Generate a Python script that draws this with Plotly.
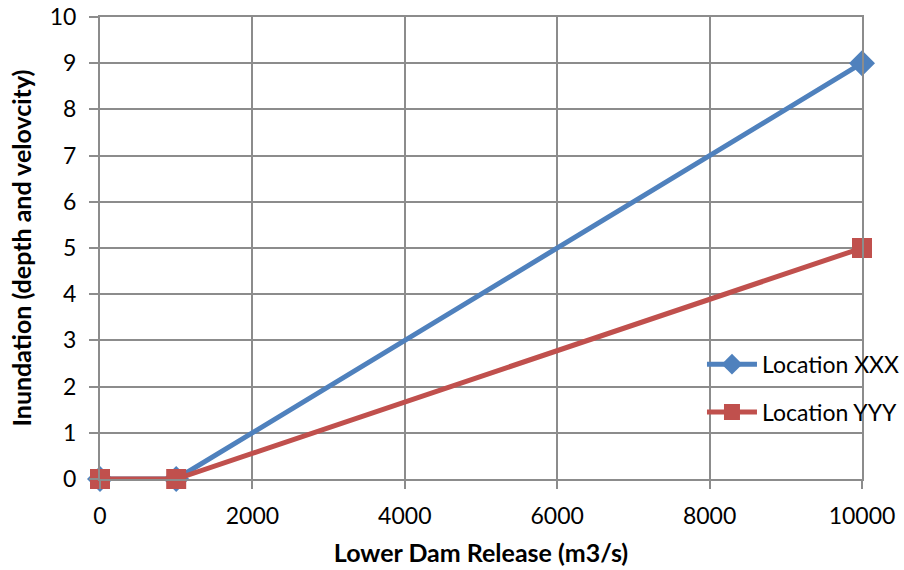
import plotly.graph_objects as go

release = [0, 1000, 10000]
xxx = [0, 0, 9]
yyy = [0, 0, 5]
x_ticks = [0, 2000, 4000, 6000, 8000, 10000]
x_labels = ["0", "2000", "4000", "6000", "8000", "10000"]
y_ticks = list(range(0, 11))

FONT = "Lato, 'Open Sans', sans-serif"
GRID = "#8c8c8c"

fig = go.Figure()
fig.add_trace(go.Scatter(
    x=release, y=xxx, mode="lines+markers", name="Location XXX",
    line=dict(color="#4F81BD", width=5),
    marker=dict(symbol="diamond", size=20, color="#4F81BD"),
    legendgroup="a",
))
fig.add_trace(go.Scatter(
    x=release, y=yyy, mode="lines+markers", name="Location YYY",
    line=dict(color="#C0504D", width=5),
    marker=dict(symbol="square", size=20, color="#C0504D"),
    legendgroup="b",
))

fig.update_layout(
    width=904, height=570,
    margin=dict(l=100, r=42, t=17, b=91, autoexpand=False),
    paper_bgcolor="white", plot_bgcolor="white",
    font=dict(family=FONT, size=23, color="black"),
    showlegend=True,
    legend=dict(x=0.79, y=0.295, xanchor="left", yanchor="top",
                bgcolor="rgba(0,0,0,0)", font=dict(size=23, family=FONT),
                tracegroupgap=15, itemwidth=50),
    xaxis=dict(range=[0, 10000], tickvals=x_ticks, ticktext=x_labels, showgrid=True,
               gridcolor=GRID, gridwidth=2, ticks="outside", ticklen=8, tickcolor=GRID,
               tickwidth=2, showline=True, linecolor=GRID, linewidth=2, mirror=True,
               zeroline=False, automargin=False, ticklabelstandoff=7,
               title=dict(text="<b>Lower Dam Release (m3/s)</b>", font=dict(size=25), standoff=17),
               tickfont=dict(size=23)),
    yaxis=dict(range=[0, 10], tickvals=y_ticks, showgrid=True, gridcolor=GRID,
               gridwidth=2, ticks="outside", ticklen=9, tickcolor=GRID, tickwidth=2,
               showline=True, linecolor=GRID, linewidth=2, mirror=True, zeroline=False,
               automargin=False, ticklabelstandoff=8,
               title=dict(text="<b>Inundation (depth and velovcity)</b>", font=dict(size=25), standoff=11),
               tickfont=dict(size=23)),
)
fig.update_traces(cliponaxis=False)
fig.write_html("out.html")
